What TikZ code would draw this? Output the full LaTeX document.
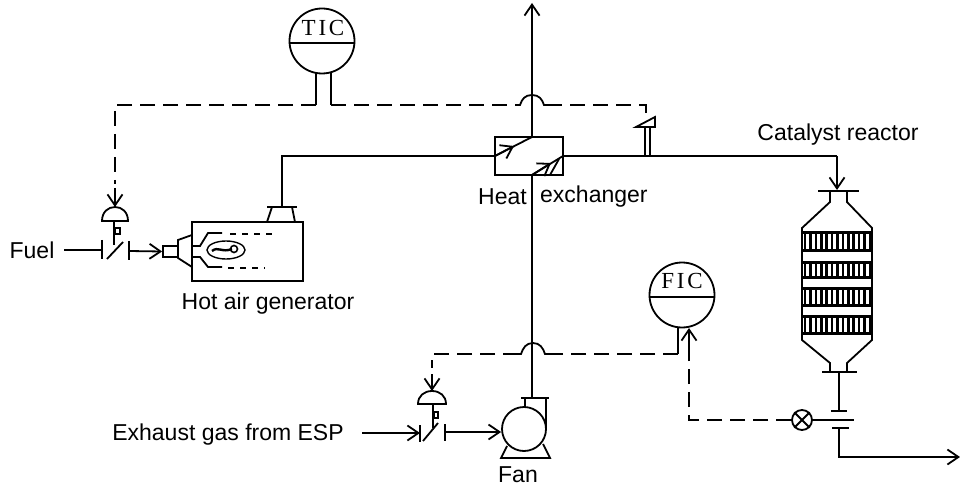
\documentclass[tikz,border=0pt]{standalone}
\usepackage{fontspec}
\setmainfont{Liberation Sans}
\newfontfamily\instfont[LetterSpace=12]{Liberation Serif}
\usetikzlibrary{arrows.meta,calc}
\tikzset{
  pipe/.style={line width=1.8pt,line join=miter},
  sig/.style={line width=1.8pt,dash pattern=on 15pt off 8pt},
  barb/.style={-{Straight Barb[length=11pt,width=15pt,line width=1.8pt]}},
  lab/.style={inner sep=0pt,font=\fontsize{23}{26}\selectfont},
  inst/.style={circle,draw,line width=1.8pt,minimum size=65pt,inner sep=0pt},
  insttext/.style={inner sep=0pt,font=\instfont\fontsize{23}{25}\selectfont},
}
\begin{document}
\begin{tikzpicture}[x=1pt,y=-1pt]
\useasboundingbox (0,0) rectangle (960,494);
\fill[white] (0,0) rectangle (960,494);
% labels
\node[lab] (fuel) at (32,250) {Fuel};
\node[lab] (hag) at (268,304) {Hot air generator};
\node[lab,anchor=west] (hx1) at (478,197) {Heat};
\node[lab,anchor=west] (hx2) at (540,197) {exchanger};
\node[lab] (cat) at (838,135) {Catalyst reactor};
\node[lab] (esp) at (228,435) {Exhaust gas from ESP};
\node[lab] (fan) at (518,475) {Fan};
% instruments
\node[inst] (tic) at (322,41) {};
\node[insttext] (tict) at (323,28) {TIC};
\draw[pipe] (tic.west |- 0,43) -- (tic.east |- 0,43);
\node[inst] (fic) at (682,295) {};
\node[insttext] (fict) at (682,281) {FIC};
\draw[pipe] (fic.west |- 0,297) -- (fic.east |- 0,297);
% heat exchanger
\node[draw,line width=1.8pt,minimum width=68pt,minimum height=38pt,inner sep=0pt] (hx) at (529,156) {};
\coordinate (hxtop) at (532,137);
\coordinate (hxbot) at (532,175);
\coordinate (hxl) at (495,156);
\coordinate (hxr) at (563,156);
\coordinate (stackend) at (532,3);
\draw[pipe,barb] (hxtop) -- (stackend);
\draw[pipe] (hxl) -- (hxtop);
\draw[pipe,barb] (hxl) -- (514,146);
\draw[pipe] (hxbot) -- (hxr);
\draw[pipe,barb] (hxbot) -- (551,163);
\draw[pipe] (550,175) -- (559,159);
% hot air generator
\node[draw,line width=1.8pt,minimum width=111pt,minimum height=59pt,inner sep=0pt] (gen) at (247.5,251.5) {};
\coordinate (genf) at (282,207);
\draw[pipe] (hxl) -- (282,156) -- (genf);
\draw[pipe] (267,207) -- (297,207);
\draw[pipe] (272,207) -- (267,222) (292,207) -- (295,222);
% burner
\draw[pipe] (192,235) -- (178,240) -- (178,258) -- (192,267);
\node[draw,line width=1.8pt,minimum width=15pt,minimum height=11pt,inner sep=0pt] (brn) at (170.5,251.5) {};
\draw[pipe] (192,246) -- (200,246) -- (208,233) -- (222,233);
\draw[pipe] (192,257) -- (200,257) -- (208,267) -- (222,267);
\draw[pipe,dash pattern=on 6pt off 6pt] (230,234) -- (273,234);
\draw[pipe,dash pattern=on 6pt off 6pt] (228,268) -- (265,268);
\draw[line width=1.4pt] (226,250) ellipse [x radius=19,y radius=9];
\draw[line width=2.4pt] (212,251) .. controls (218,246) and (222,253) .. (232,249);
\draw[line width=1.6pt] (234,249) circle [radius=3.5];
% fuel valve
\coordinate (fv1) at (102,250);
\coordinate (fv2) at (129,251);
\draw[pipe] (64,250) -- (fv1);
\draw[pipe] (102,240) -- (102,259);
\draw[pipe] (129,241) -- (129,260);
\draw[pipe] (107,259) -- (123,242);
\draw[pipe,barb] (fv2) -- (brn.west);
\coordinate (act1) at (115,207);
\draw[pipe,fill=white] (102,221) .. controls (102,212) and (108,207) .. (act1) .. controls (122,207) and (128,212) .. (128,221) -- cycle;
\draw[pipe] (114,221) -- (114,245);
\draw[line width=1.4pt] (115,228) rectangle (120,234);
% TIC loop
\coordinate (t1) at (316,72);
\coordinate (t2) at (331,72);
\draw[pipe] (t1) -- (316,105);
\draw[pipe] (t2) -- (331,105);
\draw[sig] (316,105) -- (115,105) -- (115,184);
\draw[pipe,barb] (115,188) -- (act1);
\draw[sig] (331,105) -- (519,105);
\draw[pipe] (517,105) -- (520,105) .. controls (522,99) and (525,95) .. (532,95) .. controls (539,95) and (542,99) .. (544,105) -- (547,105);
\draw[sig] (547,105) -- (646,105) -- (646,118);
% sensor
\draw[pipe,fill=white] (636,127) -- (655,117) -- (655,127) -- cycle;
\draw[pipe] (645,127) -- (645,156) (650,127) -- (650,156);
% to reactor
\coordinate (rin) at (837,190);
\draw[pipe] (hxr) -- (837,156);
\draw[pipe,barb] (837,156) -- (rin);
% reactor body
\draw[pipe] (818,191) -- (859,191);
\draw[pipe] (830,191) -- (830,202) -- (802,228) -- (802,340) -- (830,363) -- (830,372);
\draw[pipe] (847,191) -- (847,202) -- (872,228) -- (872,340) -- (847,363) -- (847,372);
\draw[pipe] (822,372) -- (857,372);
\foreach \ya/\yb in {233/250,262/277,288/305,316/333}{
  \draw[line width=3pt] (802,\ya) -- (872,\ya) (802,\yb) -- (872,\yb);
  \foreach \xx in {0,...,12}{
    \draw[line width=2.6pt] ({805+\xx*5.4},\ya) -- ({805+\xx*5.4},\yb);
  }
}
% reactor outlet and orifice
\coordinate (rout) at (839,372);
\coordinate (ori1) at (839,411);
\coordinate (ori2) at (839,428);
\coordinate (outlet) at (960,457);
\draw[pipe] (rout) -- (ori1);
\draw[pipe] (831,411) -- (847,411);
\draw[pipe] (813,420) -- (854,420);
\draw[pipe] (832,428) -- (849,428);
\draw[pipe,barb] (ori2) -- (839,457) -- (outlet);
\node[circle,draw,line width=1.8pt,minimum size=20pt,inner sep=0pt] (ft) at (802,420) {};
\draw[pipe] (ft.north west) -- (ft.south east) (ft.north east) -- (ft.south west);
\draw[pipe] (ft.east) -- (813,420);
% FIC loop
\coordinate (f1) at (678,327);
\coordinate (f2) at (689,328);
\draw[sig] (ft.west) -- (689,420) -- (689,350);
\draw[pipe,barb] (689,350) -- (f2);
\draw[pipe] (f1) -- (678,354);
\draw[sig] (678,354) -- (548,354);
\draw[pipe] (548,354) -- (545,354) .. controls (543,348) and (540,343) .. (533,343) .. controls (526,343) and (523,348) .. (521,354) -- (518,354);
\draw[sig] (518,354) -- (432,354) -- (432,368);
% exhaust valve
\coordinate (act2) at (432,391);
\draw[pipe,barb] (432,374) -- (act2);
\draw[pipe,fill=white] (418,404) .. controls (418,396) and (424,391) .. (act2) .. controls (440,391) and (446,396) .. (446,404) -- cycle;
\draw[pipe] (433,404) -- (433,428);
\draw[line width=1.4pt] (434,412) rectangle (438,418);
\coordinate (ev1) at (420,433);
\coordinate (ev2) at (445,432);
\draw[pipe,barb] (362,433) -- (ev1);
\draw[pipe] (420,425) -- (420,442) (445,424) -- (445,441);
\draw[pipe] (423,441) -- (438,423);
% fan
\node[circle,draw,line width=1.8pt,minimum size=44pt,inner sep=0pt] (pump) at (524,429) {};
\draw[pipe,barb] (ev2) -- (pump.west |- ev2);
\draw[pipe] (507,446) -- (501,458) -- (550,458) -- (543,444);
\draw[pipe] (521,398) -- (549,398);
\draw[pipe] (525,398) -- (525,408) (546,398) -- (546,428);
\draw[pipe] (hxbot) -- (532,398);
\end{tikzpicture}
\end{document}
